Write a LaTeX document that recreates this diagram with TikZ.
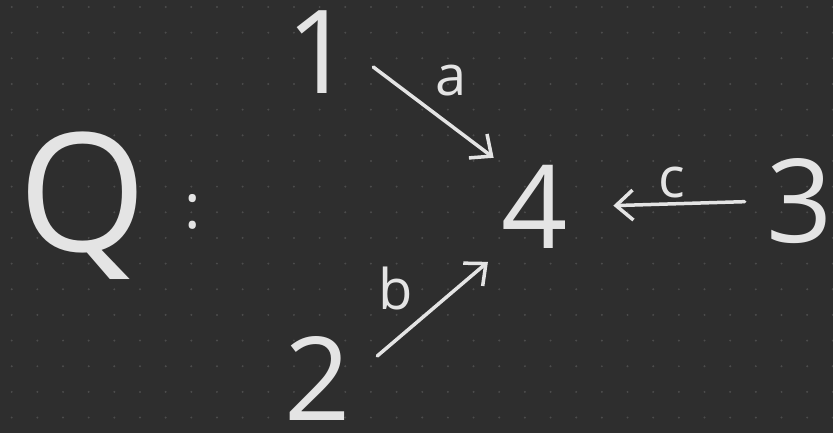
\documentclass[tikz,border=0pt]{standalone}
\usepackage{fontspec}
\setmainfont{Open Sans}
\usepackage{xcolor}
\usetikzlibrary{arrows.meta, positioning}
\definecolor{board}{HTML}{2E2E2E}
\definecolor{gridpt}{HTML}{4C4C4C}
\definecolor{ink}{HTML}{E4E4E4}

\begin{document}
\begin{tikzpicture}[
    x=1pt, y=-1pt,
    digit/.style={text=ink, inner sep=0, minimum width=60, minimum height=86, font=\fontsize{116}{116}\selectfont},
    lbl/.style={text=ink, inner sep=0, font=\fontsize{56}{56}\selectfont},
    arrow/.style={-{Straight Barb[length=17pt, width=30pt, line width=3.5pt]}, line width=3.5pt, line cap=round, draw=ink}
]
\fill[board] (0,0) rectangle (833,433);
\useasboundingbox (0,0) rectangle (833,433);
\foreach \i in {0,...,32}
  \foreach \j in {0,...,16}
    \fill[gridpt] (11.7+25.66*\i, 7+25.66*\j) circle (1.1);

\node[text=ink, inner sep=0, font=\fontsize{165}{165}\selectfont] (q) at (83,206) {Q};
\node[text=ink, inner sep=0, font=\fontsize{62}{62}\selectfont] (colon) at (193,212) {:};
\node[digit] (n1) at (320,52) {1};
\node[digit] (n2) at (318,378) {2};
\node[digit] (n3) at (800,201) {3};
\node[digit] (n4) at (535,207) {4};

\draw[arrow, shorten <=25pt, shorten >=10pt] (n1.east) -- node[lbl, shift={(24,-27)}] {a} (n4.north west);
\draw[arrow, shorten <=34pt, shorten >=18pt] (n2.east) -- node[lbl, shift={(-31,-26)}] {b} (n4.south west);
\draw[arrow, shorten <=22pt, shorten >=45pt] (n3.west) -- node[lbl, shift={(4,-21)}] {c} (n4.east);
\end{tikzpicture}
\end{document}
